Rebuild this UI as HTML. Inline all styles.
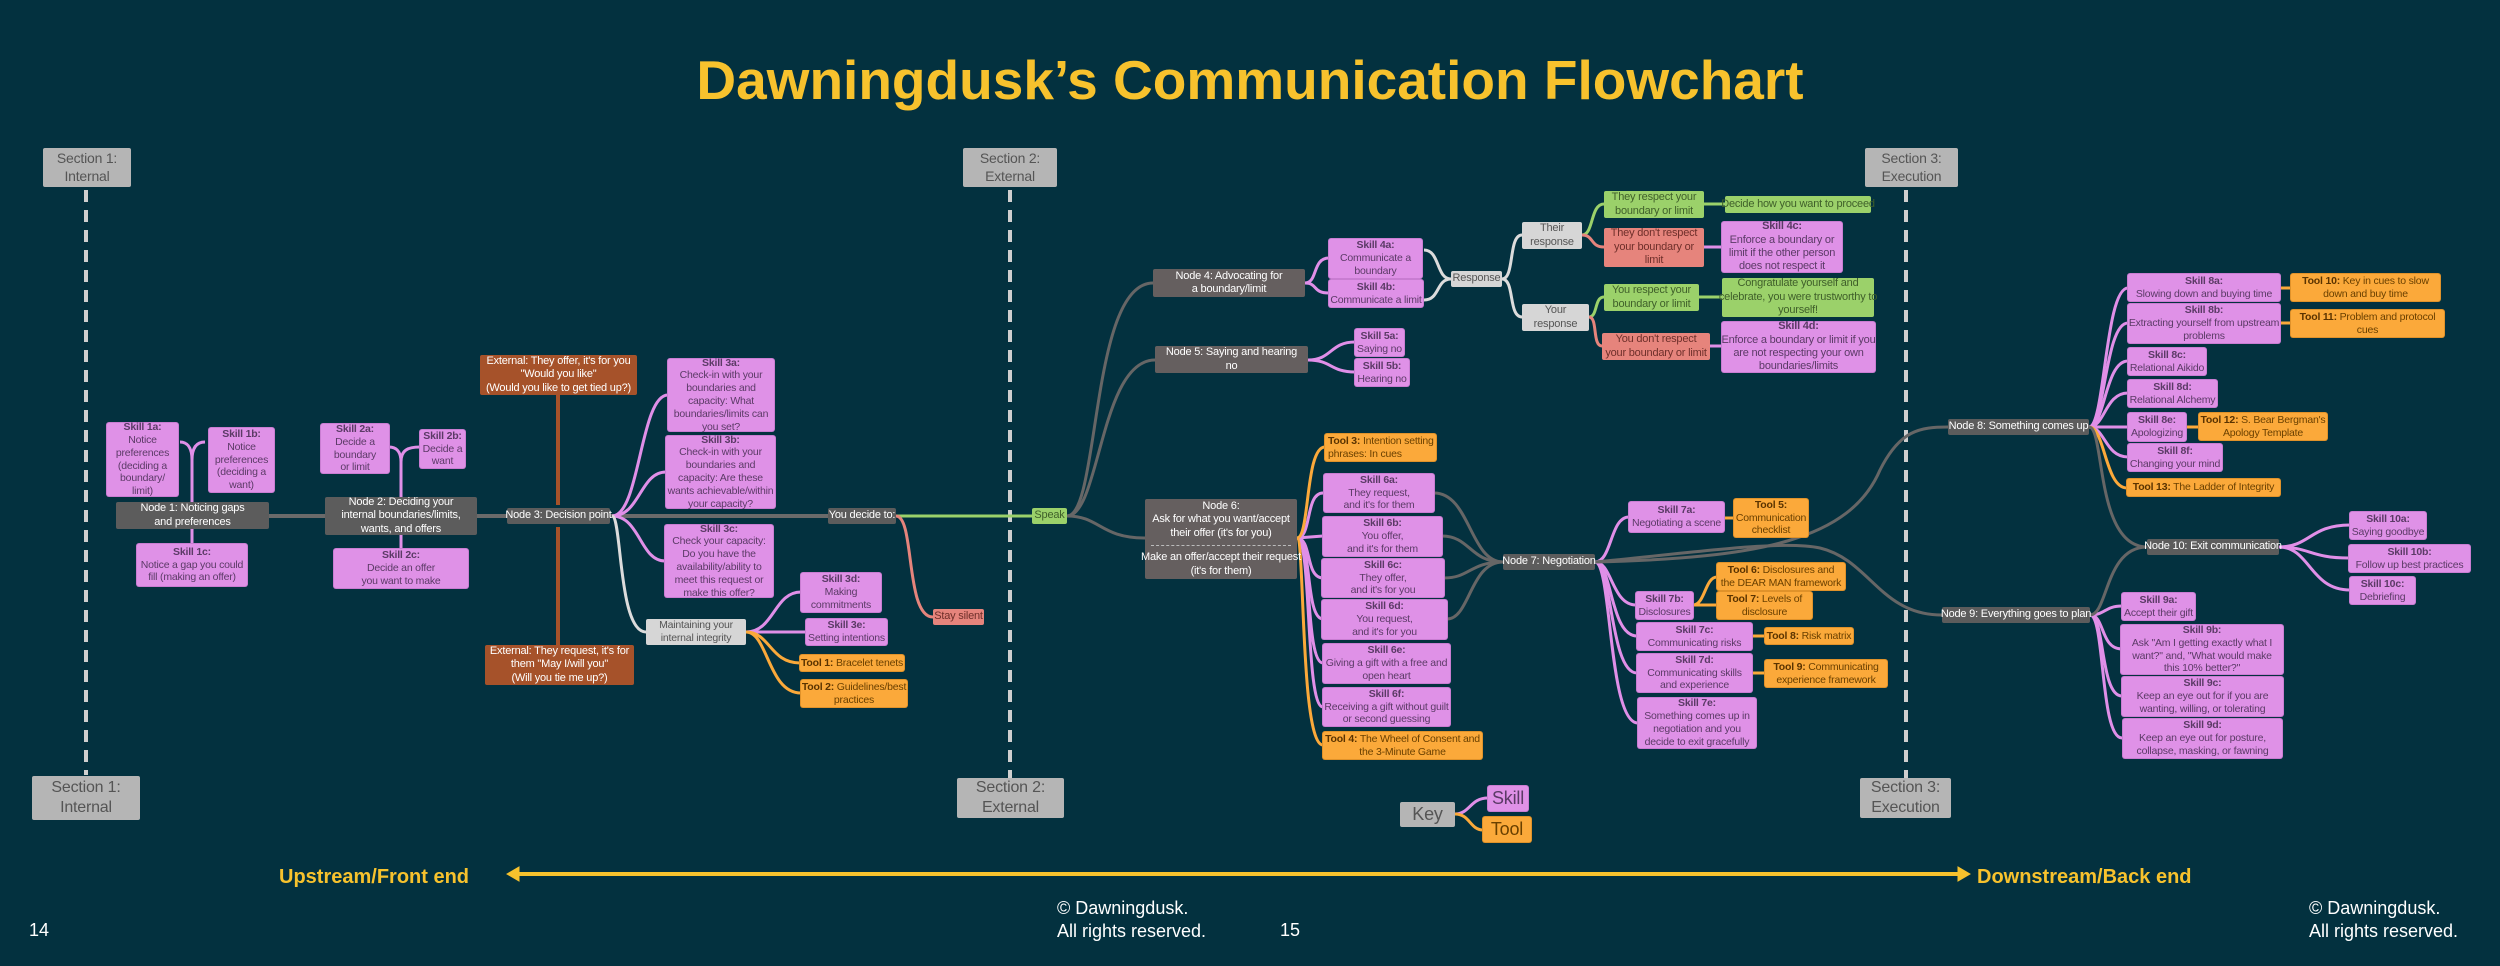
<!DOCTYPE html>
<html><head><meta charset="utf-8"><style>
body{margin:0;background:#03313f;}
#p{position:relative;width:2500px;height:966px;overflow:hidden;background:#03313f;font-family:"Liberation Sans",sans-serif;}
.b{position:absolute;display:flex;align-items:center;justify-content:center;text-align:center;font-size:10.5px;line-height:1.22;white-space:nowrap;box-sizing:border-box;border-radius:2px;letter-spacing:-0.2px}
.s{background:#df91e7;color:#5b3a66;box-shadow:0 0 0 1px #c97dd2}
.t{background:#fba93a;color:#6a4000;box-shadow:0 0 0 1px #e0922a}
.t b{color:#5a3300}
.n{background:#5c5c5c;color:#fff;font-size:11px}
.n2{background:#655f5f;color:#fff;font-size:11px}
.br{background:#a6522a;color:#fff;font-size:11px}
.g{background:#9bd16a;color:#3f5f2a;font-size:11px}
.r{background:#e6847c;color:#6e2f2a;font-size:11px}
.lg{background:#d6d6d6;color:#555;font-size:11px}
.sec{background:#b5b5b5;color:#555;font-size:14px;line-height:1.25}
.txt{position:absolute;white-space:nowrap}
</style></head><body><div id="p">
<svg width="2500" height="966" style="position:absolute;left:0;top:0" fill="none">
<g stroke="#cfcfcf" stroke-width="4" stroke-dasharray="12 8">
<path d="M86 190 L86 775"/><path d="M1010 190 L1010 778"/><path d="M1906 190 L1906 778"/>
</g>
<g stroke="#6a6a6a" stroke-width="4">
<path d="M269 516 L325 516"/><path d="M477 516 L507 516"/><path d="M610 516 L828 516"/>
</g>
<g stroke="#a6522a" stroke-width="4"><path d="M558 395 L558 505"/><path d="M558 527 L558 645"/></g>
<g stroke="#e08fe8" stroke-width="3">
<path d="M192 502 L192 460 C192 446 186 442 180 442"/><path d="M192 460 C192 446 198 442 205 442"/><path d="M192 529 L192 544"/>
<path d="M401 497 L401 462 C401 450 395 447 389 447"/><path d="M401 462 C401 450 408 447 420 447"/><path d="M401 535 L401 549"/>
<path d="M612 516 C640 516 640 395 668 395"/><path d="M612 516 C640 516 640 472 666 472"/><path d="M612 516 C640 516 640 561 665 561"/>
<path d="M746 632 C774 632 774 592 801 592"/><path d="M746 632 L806 632"/>
<path d="M1305 283 C1318 283 1312 258 1329 258"/><path d="M1305 283 C1318 283 1312 293 1329 293"/>
<path d="M1704 247 L1722 247"/><path d="M1710 346 L1722 346"/>
<path d="M1308 360 C1332 360 1330 342 1355 342"/><path d="M1308 360 C1332 360 1330 372 1355 372"/>
<path d="M1297 538 C1312 538 1305 493 1323 493"/><path d="M1297 538 L1323 536"/><path d="M1297 538 C1312 538 1305 578 1323 578"/><path d="M1297 538 C1312 538 1305 619 1323 619"/><path d="M1297 538 C1312 538 1305 663 1323 663"/><path d="M1297 538 C1312 538 1305 707 1323 707"/>
<path d="M1595 562 C1612 562 1610 517 1629 517"/><path d="M1595 562 C1612 562 1612 605 1636 605"/><path d="M1595 562 C1612 562 1610 636 1637 636"/><path d="M1595 562 C1612 562 1610 673 1637 673"/><path d="M1595 562 C1612 562 1608 723 1638 723"/>
<path d="M2089 427 C2105 427 2105 288 2128 288"/><path d="M2089 427 C2105 427 2105 323 2128 323"/><path d="M2089 427 C2105 427 2105 361 2128 361"/><path d="M2089 427 C2105 427 2105 393 2128 393"/><path d="M2089 427 L2128 427"/><path d="M2089 427 C2105 427 2105 457 2128 457"/>
<path d="M2090 615 C2105 615 2105 606 2122 606"/><path d="M2090 615 C2105 615 2100 649 2122 649"/><path d="M2090 615 C2105 615 2100 696 2122 696"/><path d="M2090 615 C2105 615 2100 738 2122 738"/>
<path d="M2279 547 C2310 547 2310 525 2350 525"/><path d="M2279 547 C2310 547 2310 558 2349 558"/><path d="M2279 547 C2310 547 2310 590 2350 590"/>
<path d="M1455 814 C1470 814 1470 798 1488 798"/>
</g>
<g stroke="#fba93a" stroke-width="3">
<path d="M746 632 C770 632 770 663 800 663"/><path d="M746 632 C768 632 768 693 801 693"/>
<path d="M1297 538 C1310 538 1305 447 1325 447"/><path d="M1297 538 C1305 538 1300 745 1323 745"/>
<path d="M1724 518 L1734 518"/><path d="M1693 605 C1705 605 1705 577 1717 577"/><path d="M1693 605 L1717 605"/><path d="M1752 636 L1765 636"/><path d="M1752 673 L1765 673"/>
<path d="M2280 288 L2291 288"/><path d="M2280 323 L2291 323"/><path d="M2186 427 L2199 427"/>
<path d="M2089 427 C2105 427 2105 488 2127 488"/>
<path d="M1455 814 C1470 814 1470 830 1483 830"/>
</g>
<g stroke="#dcdcdc" stroke-width="3">
<path d="M612 516 C622 516 618 632 646 632"/>
<path d="M1424 250 C1440 250 1436 279 1451 279"/><path d="M1424 300 C1440 300 1436 279 1451 279"/>
<path d="M1502 279 C1515 279 1508 235 1522 235"/><path d="M1502 279 C1515 279 1508 317 1522 317"/>
</g>
<g stroke="#9bd16a" stroke-width="3">
<path d="M896 516 L1032 516"/><path d="M1582 235 C1594 235 1590 204 1604 204"/><path d="M1589 317 C1598 317 1594 297 1604 297"/>
<path d="M1704 204 L1725 204"/><path d="M1699 297 L1722 297"/>
</g>
<g stroke="#e6847c" stroke-width="3">
<path d="M896 516 C915 516 905 617 933 617"/><path d="M1582 235 C1594 235 1590 247 1604 247"/><path d="M1589 317 C1598 317 1592 346 1602 346"/>
</g>
<g stroke="#666" stroke-width="3">
<path d="M1067 516 C1100 516 1090 283 1153 283"/><path d="M1067 516 C1100 516 1100 360 1155 360"/><path d="M1067 516 C1100 516 1100 538 1145 538"/>
<path d="M1434 493 C1470 493 1470 562 1503 562"/><path d="M1442 536 C1470 536 1470 562 1503 562"/><path d="M1444 578 C1470 578 1470 562 1503 562"/><path d="M1447 619 C1470 619 1470 562 1503 562"/>
<path d="M1595 562 C1760 558 1850 540 1880 470 C1900 430 1920 427 1948 427"/>
<path d="M1595 562 C1700 552 1780 540 1820 548 C1870 560 1880 615 1942 615"/>
<path d="M2089 427 C2105 427 2095 547 2147 547"/><path d="M2090 615 C2108 615 2105 547 2147 547"/>
</g>
<g stroke="#f7c22d" stroke-width="4" fill="#f7c22d">
<path d="M515 874 L1962 874"/>
<path d="M507 874 L519 867 L519 881 Z" stroke-width="1"/><path d="M1970 874 L1958 867 L1958 881 Z" stroke-width="1"/>
</g>
</svg>

<div class="txt" style="left:0;width:2500px;top:53px;text-align:center;font-size:55px;line-height:55px;font-weight:bold;color:#f7c22d">Dawningdusk’s Communication Flowchart</div>

<div class="b sec" style="left:43px;top:148px;width:88px;height:39px">Section 1:<br>Internal</div>
<div class="b sec" style="left:963px;top:148px;width:94px;height:39px">Section 2:<br>External</div>
<div class="b sec" style="left:1865px;top:148px;width:93px;height:39px">Section 3:<br>Execution</div>
<div class="b sec" style="left:32px;top:776px;width:108px;height:44px;font-size:16px">Section 1:<br>Internal</div>
<div class="b sec" style="left:957px;top:778px;width:107px;height:40px;font-size:16px">Section 2:<br>External</div>
<div class="b sec" style="left:1860px;top:778px;width:91px;height:40px;font-size:16px">Section 3:<br>Execution</div>

<div class="b s" style="left:107px;top:423px;width:71px;height:73px"><div><b>Skill 1a:</b><br>Notice<br>preferences<br>(deciding a<br>boundary/<br>limit)</div></div>
<div class="b s" style="left:209px;top:428px;width:65px;height:64px"><div><b>Skill 1b:</b><br>Notice<br>preferences<br>(deciding a<br>want)</div></div>
<div class="b n" style="left:116px;top:502px;width:153px;height:27px">Node 1: Noticing gaps<br>and preferences</div>
<div class="b s" style="left:137px;top:544px;width:110px;height:42px"><div><b>Skill 1c:</b><br>Notice a gap you could<br>fill (making an offer)</div></div>
<div class="b n" style="left:325px;top:497px;width:152px;height:38px">Node 2: Deciding your<br>internal boundaries/limits,<br>wants, and offers</div>
<div class="b s" style="left:321px;top:424px;width:68px;height:49px"><div><b>Skill 2a:</b><br>Decide a<br>boundary<br>or limit</div></div>
<div class="b s" style="left:420px;top:430px;width:45px;height:38px"><div><b>Skill 2b:</b><br>Decide a<br>want</div></div>
<div class="b s" style="left:334px;top:549px;width:134px;height:39px"><div><b>Skill 2c:</b><br>Decide an offer<br>you want to make</div></div>
<div class="b n" style="left:507px;top:508px;width:103px;height:16px">Node 3: Decision point</div>
<div class="b br" style="left:480px;top:355px;width:157px;height:40px">External: They offer, it's for you<br>"Would you like"<br>(Would you like to get tied up?)</div>
<div class="b br" style="left:485px;top:645px;width:149px;height:40px">External: They request, it's for<br>them "May I/will you"<br>(Will you tie me up?)</div>
<div class="b s" style="left:668px;top:359px;width:106px;height:72px"><div><b>Skill 3a:</b><br>Check-in with your<br>boundaries and<br>capacity: What<br>boundaries/limits can<br>you set?</div></div>
<div class="b s" style="left:666px;top:436px;width:109px;height:72px"><div><b>Skill 3b:</b><br>Check-in with your<br>boundaries and<br>capacity: Are these<br>wants achievable/within<br>your capacity?</div></div>
<div class="b s" style="left:665px;top:525px;width:108px;height:72px"><div><b>Skill 3c:</b><br>Check your capacity:<br>Do you have the<br>availability/ability to<br>meet this request or<br>make this offer?</div></div>
<div class="b lg" style="left:646px;top:619px;width:100px;height:26px;font-size:10.5px">Maintaining your<br>internal integrity</div>
<div class="b s" style="left:801px;top:573px;width:80px;height:39px"><div><b>Skill 3d:</b><br>Making<br>commitments</div></div>
<div class="b s" style="left:806px;top:619px;width:81px;height:26px"><div><b>Skill 3e:</b><br>Setting intentions</div></div>
<div class="b t" style="left:800px;top:655px;width:104px;height:16px"><div><b>Tool 1:</b> Bracelet tenets</div></div>
<div class="b t" style="left:801px;top:680px;width:106px;height:27px"><div><b>Tool 2:</b> Guidelines/best<br>practices</div></div>
<div class="b n" style="left:828px;top:508px;width:68px;height:16px">You decide to:</div>
<div class="b r" style="left:933px;top:609px;width:51px;height:16px">Stay silent</div>
<div class="b g" style="left:1032px;top:508px;width:35px;height:16px">Speak</div>

<div class="b n2" style="left:1153px;top:269px;width:152px;height:28px">Node 4: Advocating for<br>a boundary/limit</div>
<div class="b s" style="left:1329px;top:239px;width:93px;height:39px"><div><b>Skill 4a:</b><br>Communicate a<br>boundary</div></div>
<div class="b s" style="left:1329px;top:280px;width:94px;height:27px"><div><b>Skill 4b:</b><br>Communicate a limit</div></div>
<div class="b lg" style="left:1451px;top:271px;width:51px;height:16px">Response</div>
<div class="b lg" style="left:1522px;top:222px;width:60px;height:27px">Their<br>response</div>
<div class="b lg" style="left:1522px;top:304px;width:67px;height:27px">Your<br>response</div>
<div class="b g" style="left:1604px;top:191px;width:100px;height:27px">They respect your<br>boundary or limit</div>
<div class="b g" style="left:1725px;top:196px;width:146px;height:17px">Decide how you want to proceed</div>
<div class="b r" style="left:1604px;top:228px;width:100px;height:39px">They don't respect<br>your boundary or<br>limit</div>
<div class="b s" style="left:1722px;top:222px;width:120px;height:50px;font-size:11px"><div><b>Skill 4c:</b><br>Enforce a boundary or<br>limit if the other person<br>does not respect it</div></div>
<div class="b g" style="left:1604px;top:284px;width:95px;height:27px">You respect your<br>boundary or limit</div>
<div class="b g" style="left:1722px;top:278px;width:152px;height:39px">Congratulate yourself and<br>celebrate, you were trustworthy to<br>yourself!</div>
<div class="b r" style="left:1602px;top:333px;width:108px;height:27px">You don't respect<br>your boundary or limit</div>
<div class="b s" style="left:1722px;top:322px;width:153px;height:50px;font-size:11px"><div><b>Skill 4d:</b><br>Enforce a boundary or limit if you<br>are not respecting your own<br>boundaries/limits</div></div>
<div class="b n2" style="left:1155px;top:346px;width:153px;height:27px">Node 5: Saying and hearing<br>no</div>
<div class="b s" style="left:1355px;top:329px;width:49px;height:27px"><div><b>Skill 5a:</b><br>Saying no</div></div>
<div class="b s" style="left:1355px;top:359px;width:54px;height:27px"><div><b>Skill 5b:</b><br>Hearing no</div></div>
<div class="b n2" style="left:1145px;top:499px;width:152px;height:80px;flex-direction:column"><div>Node 6:<br>Ask for what you want/accept<br>their offer (it's for you)</div><div style="width:140px;border-top:1px dashed #bbb;margin:5px 0"></div><div>Make an offer/accept their request<br>(it's for them)</div></div>
<div class="b t" style="left:1325px;top:434px;width:111px;height:27px;justify-content:flex-start;text-align:left;padding-left:3px"><div><b>Tool 3:</b> Intention setting<br>phrases: In cues</div></div>
<div class="b s" style="left:1324px;top:474px;width:110px;height:38px"><div><b>Skill 6a:</b><br>They request,<br>and it's for them</div></div>
<div class="b s" style="left:1323px;top:517px;width:119px;height:39px"><div><b>Skill 6b:</b><br>You offer,<br>and it's for them</div></div>
<div class="b s" style="left:1322px;top:559px;width:122px;height:38px"><div><b>Skill 6c:</b><br>They offer,<br>and it's for you</div></div>
<div class="b s" style="left:1322px;top:600px;width:125px;height:39px"><div><b>Skill 6d:</b><br>You request,<br>and it's for you</div></div>
<div class="b s" style="left:1323px;top:644px;width:127px;height:39px"><div><b>Skill 6e:</b><br>Giving a gift with a free and<br>open heart</div></div>
<div class="b s" style="left:1323px;top:688px;width:127px;height:38px"><div><b>Skill 6f:</b><br>Receiving a gift without guilt<br>or second guessing</div></div>
<div class="b t" style="left:1323px;top:732px;width:159px;height:27px"><div><b>Tool 4:</b> The Wheel of Consent and<br>the 3-Minute Game</div></div>
<div class="b n" style="left:1503px;top:554px;width:92px;height:16px">Node 7: Negotiation</div>
<div class="b s" style="left:1629px;top:502px;width:95px;height:30px"><div><b>Skill 7a:</b><br>Negotiating a scene</div></div>
<div class="b t" style="left:1734px;top:499px;width:74px;height:38px"><div><b>Tool 5:</b><br>Communication<br>checklist</div></div>
<div class="b t" style="left:1717px;top:563px;width:128px;height:27px"><div><b>Tool 6:</b> Disclosures and<br>the DEAR MAN framework</div></div>
<div class="b t" style="left:1717px;top:592px;width:95px;height:27px"><div><b>Tool 7:</b> Levels of<br>disclosure</div></div>
<div class="b s" style="left:1636px;top:592px;width:57px;height:27px"><div><b>Skill 7b:</b><br>Disclosures</div></div>
<div class="b s" style="left:1637px;top:623px;width:115px;height:27px"><div><b>Skill 7c:</b><br>Communicating risks</div></div>
<div class="b t" style="left:1765px;top:628px;width:88px;height:16px"><div><b>Tool 8:</b> Risk matrix</div></div>
<div class="b s" style="left:1637px;top:654px;width:115px;height:38px"><div><b>Skill 7d:</b><br>Communicating skills<br>and experience</div></div>
<div class="b t" style="left:1765px;top:660px;width:122px;height:27px"><div><b>Tool 9:</b> Communicating<br>experience framework</div></div>
<div class="b s" style="left:1638px;top:698px;width:118px;height:50px"><div><b>Skill 7e:</b><br>Something comes up in<br>negotiation and you<br>decide to exit gracefully</div></div>

<div class="b n" style="left:1948px;top:419px;width:141px;height:16px">Node 8: Something comes up</div>
<div class="b s" style="left:2128px;top:274px;width:152px;height:27px"><div><b>Skill 8a:</b><br>Slowing down and buying time</div></div>
<div class="b t" style="left:2291px;top:274px;width:149px;height:27px"><div><b>Tool 10:</b> Key in cues to slow<br>down and buy time</div></div>
<div class="b s" style="left:2128px;top:304px;width:152px;height:39px"><div><b>Skill 8b:</b><br>Extracting yourself from upstream<br>problems</div></div>
<div class="b t" style="left:2291px;top:310px;width:153px;height:27px"><div><b>Tool 11:</b> Problem and protocol<br>cues</div></div>
<div class="b s" style="left:2128px;top:348px;width:78px;height:27px"><div><b>Skill 8c:</b><br>Relational Aikido</div></div>
<div class="b s" style="left:2128px;top:380px;width:89px;height:27px"><div><b>Skill 8d:</b><br>Relational Alchemy</div></div>
<div class="b s" style="left:2128px;top:413px;width:58px;height:28px"><div><b>Skill 8e:</b><br>Apologizing</div></div>
<div class="b t" style="left:2199px;top:413px;width:128px;height:27px"><div><b>Tool 12:</b> S. Bear Bergman's<br>Apology Template</div></div>
<div class="b s" style="left:2128px;top:444px;width:94px;height:27px"><div><b>Skill 8f:</b><br>Changing your mind</div></div>
<div class="b t" style="left:2127px;top:479px;width:153px;height:17px"><div><b>Tool 13:</b> The Ladder of Integrity</div></div>
<div class="b n" style="left:2147px;top:539px;width:132px;height:16px">Node 10: Exit communication</div>
<div class="b s" style="left:2350px;top:512px;width:76px;height:27px"><div><b>Skill 10a:</b><br>Saying goodbye</div></div>
<div class="b s" style="left:2349px;top:545px;width:121px;height:27px"><div><b>Skill 10b:</b><br>Follow up best practices</div></div>
<div class="b s" style="left:2350px;top:577px;width:65px;height:27px"><div><b>Skill 10c:</b><br>Debriefing</div></div>
<div class="b n" style="left:1942px;top:607px;width:148px;height:16px">Node 9: Everything goes to plan</div>
<div class="b s" style="left:2122px;top:593px;width:73px;height:27px"><div><b>Skill 9a:</b><br>Accept their gift</div></div>
<div class="b s" style="left:2121px;top:625px;width:162px;height:49px"><div><b>Skill 9b:</b><br>Ask "Am I getting exactly what I<br>want?" and, "What would make<br>this 10% better?"</div></div>
<div class="b s" style="left:2122px;top:677px;width:161px;height:39px"><div><b>Skill 9c:</b><br>Keep an eye out for if you are<br>wanting, willing, or tolerating</div></div>
<div class="b s" style="left:2123px;top:719px;width:159px;height:39px"><div><b>Skill 9d:</b><br>Keep an eye out for posture,<br>collapse, masking, or fawning</div></div>

<div class="b sec" style="left:1400px;top:802px;width:55px;height:25px;font-size:18px">Key</div>
<div class="b s" style="left:1488px;top:786px;width:40px;height:25px;font-size:18px">Skill</div>
<div class="b t" style="left:1483px;top:817px;width:48px;height:25px;font-size:18px">Tool</div>

<div class="txt" style="left:279px;top:866px;font-size:20px;font-weight:bold;color:#f7c22d">Upstream/Front end</div>
<div class="txt" style="left:1977px;top:866px;font-size:20px;font-weight:bold;color:#f7c22d">Downstream/Back end</div>
<div class="txt" style="left:29px;top:920px;font-size:18px;color:#fff">14</div>
<div class="txt" style="left:1057px;top:897px;font-size:18px;color:#fff;line-height:23px">© Dawningdusk.<br>All rights reserved.</div>
<div class="txt" style="left:1280px;top:920px;font-size:18px;color:#fff">15</div>
<div class="txt" style="left:2309px;top:897px;font-size:18px;color:#fff;line-height:23px">© Dawningdusk.<br>All rights reserved.</div>
</div></body></html>
